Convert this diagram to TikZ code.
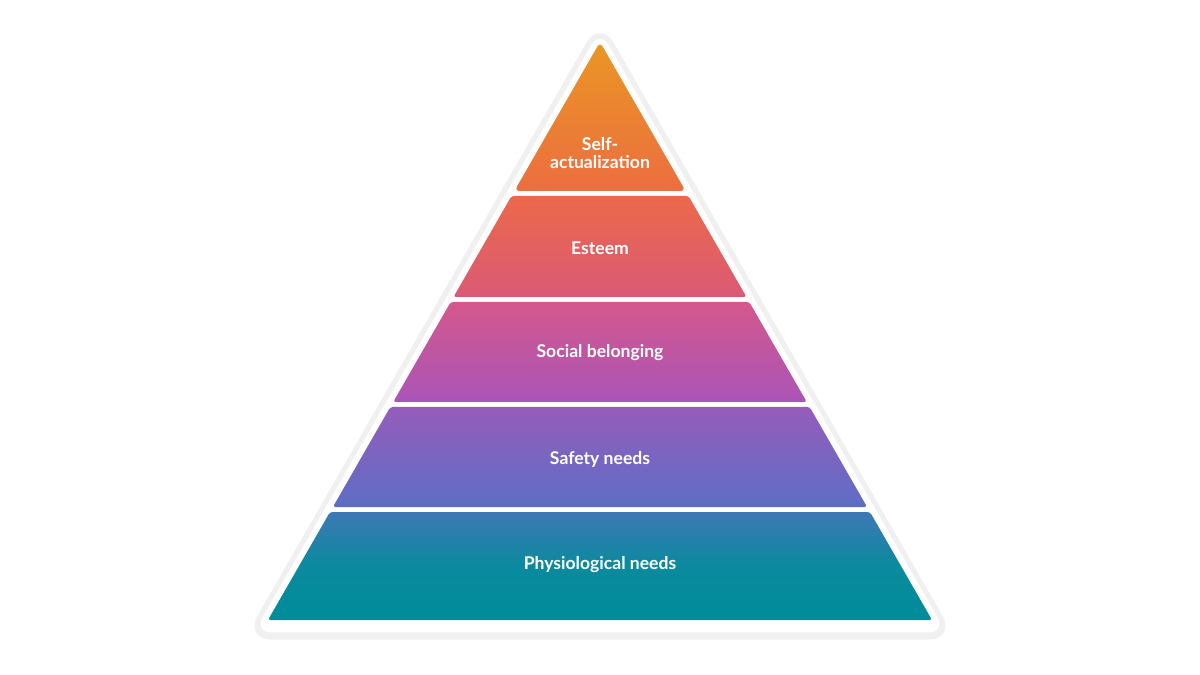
\documentclass[tikz,border=0pt]{standalone}
\usepackage{fontspec}
\setmainfont{Lato}
\begin{document}
\begin{tikzpicture}[x=0.02cm,y=-0.02cm,
  lbl/.style={text=white,font=\bfseries\fontsize{10}{12}\selectfont,align=center},
  layer/.style={rounded corners=1.5pt}]
\useasboundingbox (0,0) rectangle (1200,675);
\fill[white] (0,0) rectangle (1200,675);
% halo
\draw[black!6,line width=4pt,fill=white,rounded corners=12pt,line join=round] (600,26) -- (950,636) -- (250,636) -- cycle;
\fill[white,rounded corners=10pt] (600,30) -- (946,632) -- (254,632) -- cycle;
% layers
\path[top color={rgb,255:red,234;green,150;blue,36},bottom color={rgb,255:red,236;green,110;blue,64},rounded corners=3pt]
  (600,42) -- (685.6,191) -- (514.4,191) -- cycle;
\path[top color={rgb,255:red,236;green,104;blue,74},bottom color={rgb,255:red,218;green,90;blue,118},layer]
  (511.5,196) -- (688.5,196) -- (746.5,297) -- (453.5,297) -- cycle;
\path[top color={rgb,255:red,212;green,88;blue,140},bottom color={rgb,255:red,170;green,84;blue,184},layer]
  (450.7,302) -- (749.3,302) -- (806.8,402) -- (393.2,402) -- cycle;
\path[top color={rgb,255:red,150;green,92;blue,188},bottom color={rgb,255:red,92;green,110;blue,196},layer]
  (390.3,407) -- (809.7,407) -- (867.1,507) -- (332.9,507) -- cycle;
\path[top color={rgb,255:red,62;green,120;blue,180},bottom color={rgb,255:red,0;green,140;blue,154},middle color={rgb,255:red,10;green,138;blue,158},layer]
  (330,512) -- (870,512) -- (932,620) -- (268,620) -- cycle;
% labels
\node[lbl] (l1) at (600,153) {Self-\\[-2pt]actualization};
\node[lbl] (l2) at (600,248) {Esteem};
\node[lbl] (l3) at (600,353) {Social belonging};
\node[lbl] (l4) at (600,459) {Safety needs};
\node[lbl] (l5) at (600,565) {Physiological needs};
\end{tikzpicture}
\end{document}
